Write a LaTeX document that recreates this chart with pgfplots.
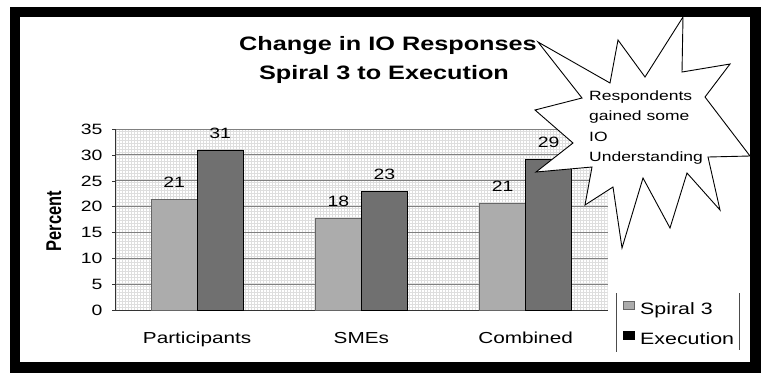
\documentclass[border=0pt]{standalone}
\usepackage{pgfplots}
\pgfplotsset{compat=1.18}
\usepackage{pgfplotstable}
\usepackage{fontspec}
\setmainfont{Liberation Sans}[FakeStretch=1.3]
\newfontfamily\plainsans{Liberation Sans}
\usetikzlibrary{patterns}
\definecolor{spiral}{RGB}{172,172,172}
\definecolor{execc}{RGB}{112,112,112}

\pgfplotstableread{
x y label
0 21.5 21
1 17.8 18
2 20.7 21
}\spiraltab
\pgfplotstableread{
x y label
0 31.0 31
1 23.0 23
2 29.2 29
}\exectab

\begin{document}
\begin{tikzpicture}
\begin{scope}[x=1bp,y=-1bp]
\path[use as bounding box] (0,0) rectangle (761,373);
\fill[black] (10,7) rectangle (761,373);
\fill[white] (20,17) rectangle (750,362);
\node[anchor=base, font=\fontsize{19.5}{20}\selectfont\bfseries, inner sep=0pt] at (388,50.7) {Change in IO Responses};
\node[anchor=base, font=\fontsize{19.5}{20}\selectfont\bfseries, inner sep=0pt] at (384,79) {Spiral 3 to Execution};
\end{scope}
\begin{axis}[
  at={(115bp,-310.5bp)}, anchor=south west,
  scale only axis, width=492.7bp, height=181.5bp,
  xmin=-0.5, xmax=2.5, ymin=0, ymax=35,
  axis lines*=left,
  axis line style={black!80, line width=0.8bp},
  ybar=0pt, bar width=0.28,
  xtick={0,1,2}, xticklabels={Participants,SMEs,Combined},
  xtick style={draw=none},
  minor xtick={0.5,1.5},
  minor tick length=5bp,
  minor x tick style={black!80, line width=0.8bp},
  ytick={0,5,...,35},
  ytick style={black!80, line width=0.6bp},
  tick align=outside, major tick length=3bp,
  ymajorgrids, grid style={black!50, line width=0.9bp},
  axis background/.style={pattern=grid, pattern color=black!13},
  /pgf/number format/assume math mode=true,
  yticklabel style={font=\fontsize{15}{15}\selectfont, xshift=-6bp},
  xticklabel style={font=\fontsize{16}{16}\selectfont, yshift=-15bp},
  ylabel={\scalebox{1}[1.3]{\plainsans\fontsize{16.5}{16.5}\selectfont\bfseries Percent}},
  ylabel style={at={(axis description cs:-0.124,0.493)}, anchor=center},
  nodes near coords, point meta=explicit symbolic,
  nodes near coords style={font=\fontsize{15}{15}\selectfont, yshift=8bp},
  legend style={at={(axis description cs:1.0311,0.054)}, anchor=north west, draw=none, fill=none, inner sep=0pt, outer sep=0pt, font=\fontsize{16.5}{16.5}\selectfont, row sep=12bp},
  legend cell align=left,
]
\addplot[draw=black!60, fill=spiral, legend image code/.code={\draw[draw=black!60, fill=spiral] (0bp,0bp) rectangle (11bp,8bp); \path[draw=none, fill=none] (0bp,0bp) -- (15bp,0bp);}] table[x=x, y=y, meta=label] {\spiraltab};
\addplot[draw=black, fill=execc, legend image code/.code={\draw[draw=black, fill=black] (0bp,0bp) rectangle (11bp,8bp); \path[draw=none, fill=none] (0bp,0bp) -- (15bp,0bp);}] table[x=x, y=y, meta=label] {\exectab};
\legend{Spiral 3, Execution}
\end{axis}
\begin{scope}[x=1bp,y=-1bp]
\draw[fill=white, line width=0.9bp, line join=miter] (538,42) -- (610,83) -- (618,40) -- (645,77) -- (683,17) -- (682,72) -- (730,64) -- (705,97) -- (750,156) -- (708,157) -- (720,210) -- (687,173) -- (670,228) -- (643,178) -- (622,248) -- (613,187) -- (585,205) -- (592,167) -- (536,172) -- (573,143) -- (535,110) -- (582,98) -- cycle;
\foreach \t/\yy in {Respondents/100, gained some/120.5, IO/141, Understanding/161}
  \node[anchor=base west, inner sep=0pt, font=\fontsize{13.5}{13.5}\selectfont] at (589,\yy) {\t};
\draw[black!70, line width=0.8bp] (616,293) -- (616,352);
\draw[black!70, line width=0.8bp] (739,293) -- (739,350);
\end{scope}
\end{tikzpicture}
\end{document}
